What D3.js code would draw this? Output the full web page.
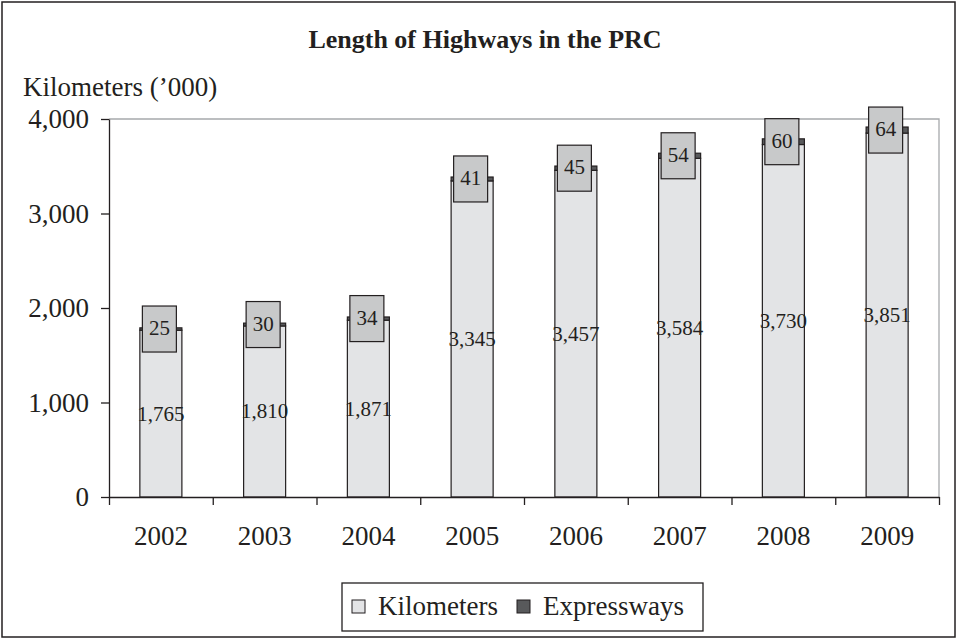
<!DOCTYPE html>
<html>
<head>
<meta charset="utf-8">
<script src="https://cdn.jsdelivr.net/npm/d3@7"></script>
<style>
	body { margin: 0; background: #fff; }
	text { font-family: "Liberation Serif", "Times New Roman", serif; fill: #231f20; }
</style>
</head>
<body>
<script>
const years = ["2002", "2003", "2004", "2005", "2006", "2007", "2008", "2009"];
const kilometers = [1765, 1810, 1871, 3345, 3457, 3584, 3730, 3851];
const expressways = [25, 30, 34, 41, 45, 54, 60, 64];
const yTicks = [0, 1000, 2000, 3000, 4000];
const seriesNames = ["Kilometers", "Expressways"];
const seriesColors = ["#e3e4e6", "#58595b"];

const width = 957, height = 639;
const margin = { top: 119, right: 18, bottom: 142, left: 109 };
const dark = "#231f20";

const svg = d3.select("body").append("svg")
	.attr("width", width)
	.attr("height", height);

// outer frame
svg.append("rect")
	.attr("x", 2).attr("y", 2)
	.attr("width", width - 4).attr("height", height - 4)
	.attr("fill", "#fff")
	.attr("stroke", dark)
	.attr("stroke-width", 1.5);

const x = d3.scaleBand()
	.domain(years)
	.range([margin.left, width - margin.right])
	.padding(0);

const xEdge = d3.scaleLinear()
	.domain([0, years.length])
	.range([margin.left, width - margin.right]);

const y = d3.scaleLinear()
	.domain([0, 4000])
	.range([height - margin.bottom, margin.top]);

// plot area border (top / right)
svg.append("path")
	.attr("d", `M${margin.left},${margin.top}H${width - margin.right}V${height - margin.bottom}`)
	.attr("fill", "none")
	.attr("stroke", "#a7a9ac")
	.attr("stroke-width", 1.3);

const rows = years.map((yr, i) => ({ year: yr, Kilometers: kilometers[i], Expressways: expressways[i] }));
const stacked = d3.stack().keys(seriesNames)(rows);

const barW = x.bandwidth() * 0.405;
const barX = d => x(d.data.year) + (x.bandwidth() - barW) / 2;

svg.append("g").selectAll("g")
	.data(stacked)
	.join("g")
	.attr("fill", (d, i) => seriesColors[i])
	.selectAll("rect")
	.data(d => d)
	.join("rect")
	.attr("x", barX)
	.attr("width", barW)
	.attr("y", d => y(d[1]))
	.attr("height", d => y(d[0]) - y(d[1]))
	.attr("stroke", dark)
	.attr("stroke-width", 1.2);

// kilometer value labels (middle of bar)
svg.append("g").selectAll("text")
	.data(stacked[0])
	.join("text")
	.attr("x", d => x(d.data.year) + x.bandwidth() / 2)
	.attr("y", d => (y(d[0]) + y(d[1])) / 2)
	.attr("text-anchor", "middle")
	.attr("dominant-baseline", "central")
	.attr("font-size", 21)
	.text(d => d3.format(",")(d[1] - d[0]));

// expressway labels in boxes
const boxW = 34, boxH = 46;
const lab = svg.append("g").selectAll("g")
	.data(stacked[1])
	.join("g")
	.attr("transform", d => `translate(${x(d.data.year) + x.bandwidth() / 2 - 1.5},${(y(d[0]) + y(d[1])) / 2})`);

lab.append("rect")
	.attr("x", -boxW / 2).attr("y", -boxH / 2)
	.attr("width", boxW).attr("height", boxH)
	.attr("fill", "#c8c9ca")
	.attr("stroke", dark)
	.attr("stroke-width", 1.2);

lab.append("text")
	.attr("text-anchor", "middle")
	.attr("dominant-baseline", "central")
	.attr("y", -1)
	.attr("font-size", 21)
	.text(d => d[1] - d[0]);

// y axis
const yAxis = svg.append("g")
	.attr("transform", `translate(${margin.left},0)`)
	.call(d3.axisLeft(y).tickValues(yTicks).tickFormat(d3.format(",")).tickSize(8).tickPadding(12).tickSizeOuter(0));
yAxis.selectAll("text").attr("font-size", 27).attr("font-family", null).style("fill", dark);
yAxis.selectAll("line, path").attr("stroke", dark).attr("stroke-width", 1.3);

// x axis: boundary ticks
const xAxis = svg.append("g")
	.attr("transform", `translate(0,${height - margin.bottom})`)
	.call(d3.axisBottom(xEdge).tickValues(d3.range(years.length + 1)).tickFormat("").tickSize(8).tickSizeOuter(0));
xAxis.selectAll("line, path").attr("stroke", dark).attr("stroke-width", 1.3);

// x axis: labels
const xLabels = svg.append("g")
	.attr("transform", `translate(0,${height - margin.bottom})`)
	.call(d3.axisBottom(x).tickSize(0).tickPadding(29));
xLabels.select(".domain").remove();
xLabels.selectAll("text").attr("font-size", 27).attr("font-family", null).style("fill", dark);

// title and axis title
svg.append("text")
	.attr("x", 485).attr("y", 48)
	.attr("text-anchor", "middle")
	.attr("font-size", 26)
	.attr("font-weight", "bold")
	.text("Length of Highways in the PRC");

svg.append("text")
	.attr("x", 23).attr("y", 96)
	.attr("font-size", 27)
	.text("Kilometers (\u2019000)");

// legend
const legend = svg.append("g").attr("transform", "translate(342,583)");
legend.append("rect")
	.attr("width", 361).attr("height", 48)
	.attr("fill", "#fff")
	.attr("stroke", dark)
	.attr("stroke-width", 1.3);

const legendX = [10, 175];
const item = legend.selectAll("g")
	.data(seriesNames)
	.join("g")
	.attr("transform", (d, i) => `translate(${legendX[i]},0)`);

item.append("rect")
	.attr("x", 0).attr("y", 17)
	.attr("width", 13).attr("height", 13)
	.attr("fill", (d, i) => seriesColors[i])
	.attr("stroke", dark)
	.attr("stroke-width", 1);

item.append("text")
	.attr("x", 26).attr("y", 32)
	.attr("font-size", 27)
	.text(d => d);
</script>
</body>
</html>
